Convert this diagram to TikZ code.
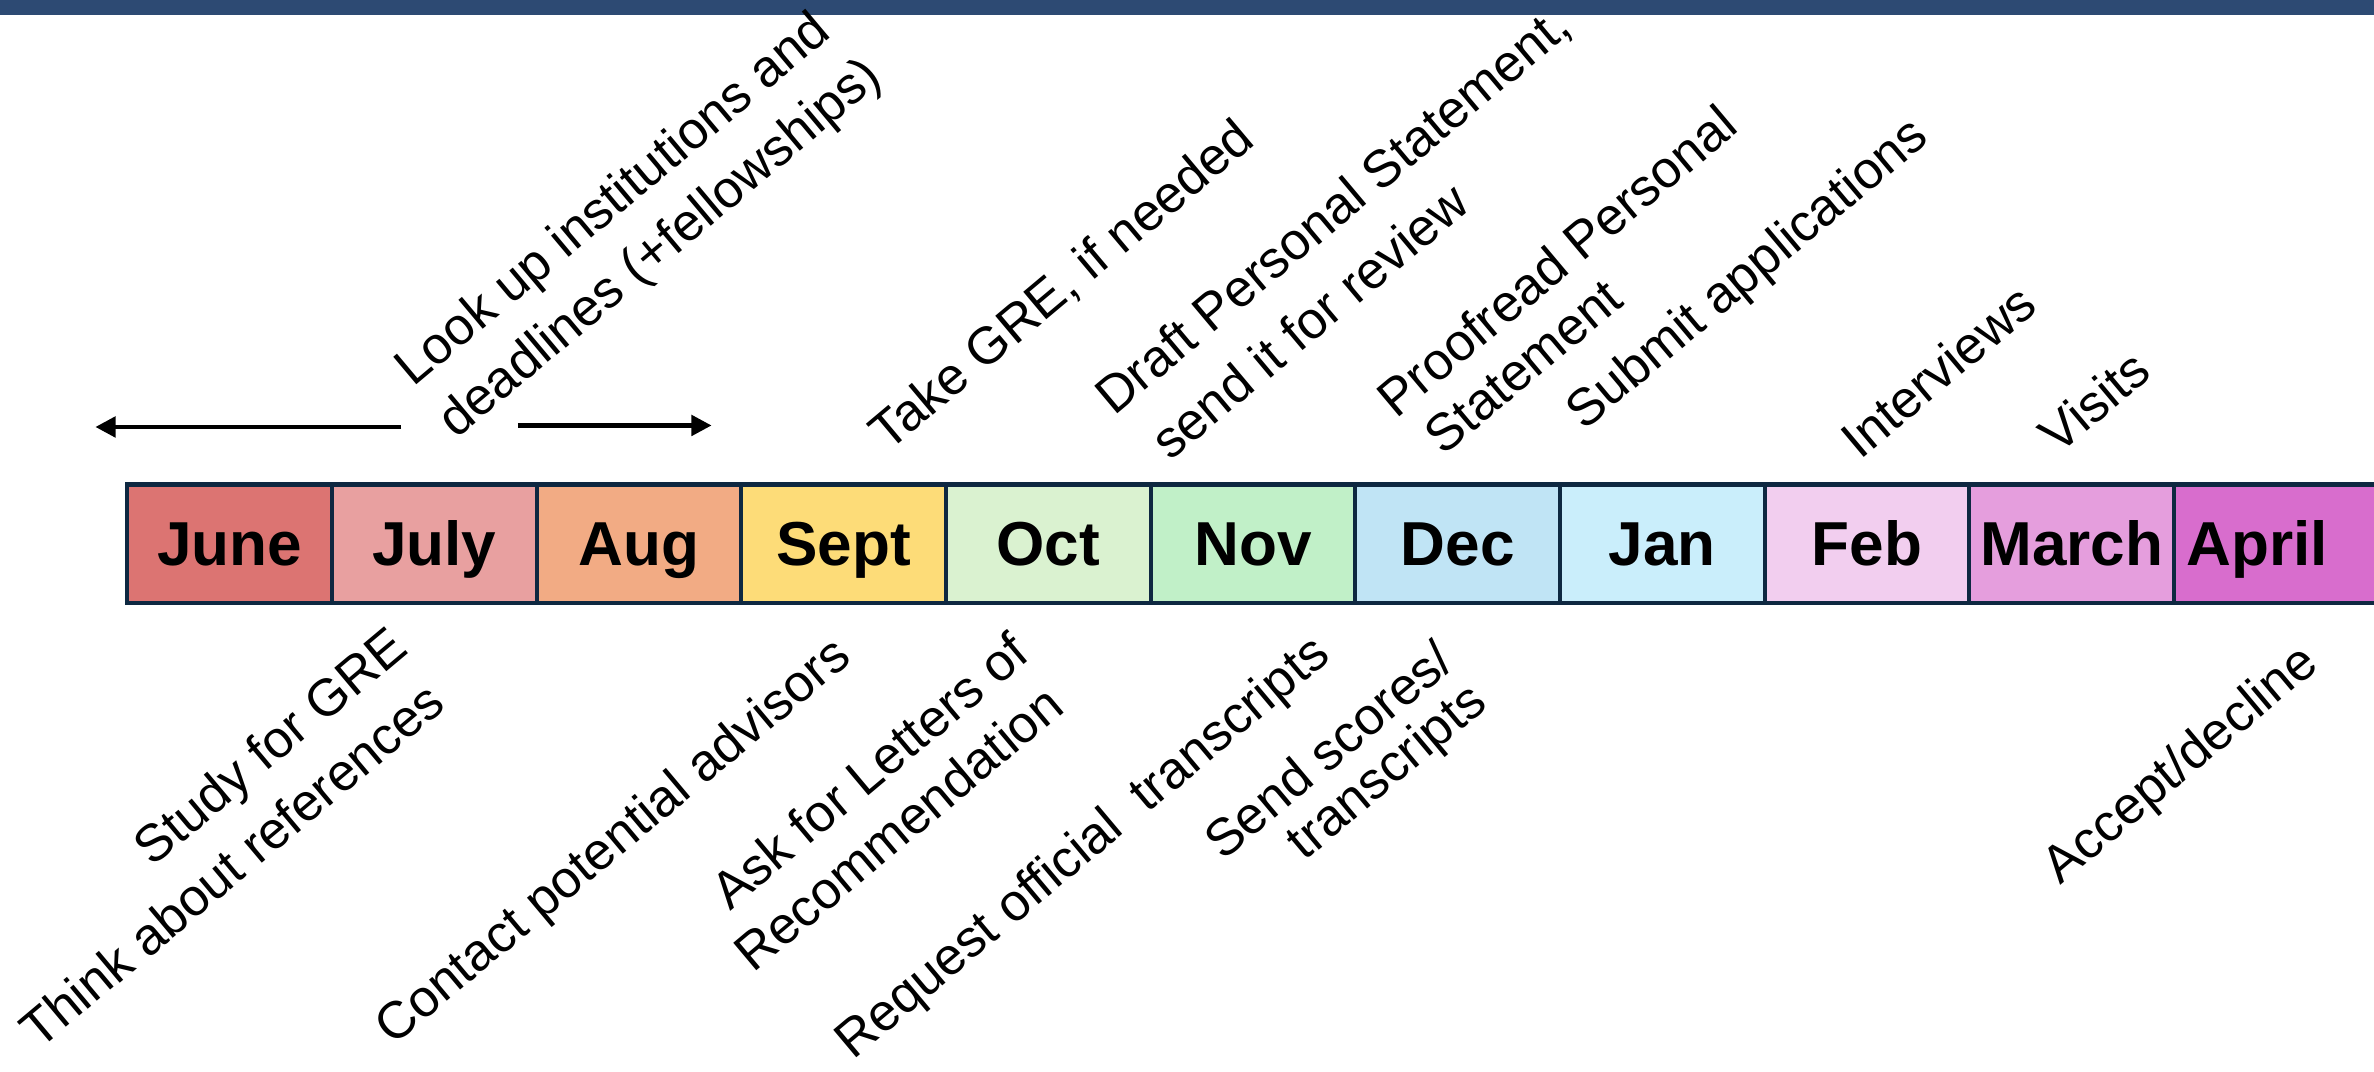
\documentclass[tikz,border=0pt]{standalone}
\usepackage{fontspec}
\setmainfont{Liberation Sans}
\usetikzlibrary{arrows.meta}
\definecolor{band}{HTML}{2D4A73}
\definecolor{edge}{HTML}{0E2841}
\definecolor{cJun}{HTML}{DC7472}
\definecolor{cJul}{HTML}{E8A0A0}
\definecolor{cAug}{HTML}{F2AB84}
\definecolor{cSep}{HTML}{FDDC78}
\definecolor{cOct}{HTML}{DAF2D0}
\definecolor{cNov}{HTML}{C1F0C8}
\definecolor{cDec}{HTML}{C0E4F5}
\definecolor{cJan}{HTML}{CAEEFB}
\definecolor{cFeb}{HTML}{F2CEEF}
\definecolor{cMar}{HTML}{E59EDD}
\definecolor{cApr}{HTML}{D86DCD}
\begin{document}
\begin{tikzpicture}[x=0.15mm,y=-0.15mm,
  month/.style={draw=edge, line width=0.4mm, minimum width=20.28mm, minimum height=11.7mm, inner sep=0pt, text height=12.5pt, text depth=0pt, font=\fontsize{17.5}{20}\selectfont\bfseries},
  mtext/.style={inner sep=0pt, text height=12.5pt, text depth=0pt, font=\fontsize{17.5}{20}\selectfont\bfseries},
  lbl/.style={rotate=40, inner sep=0pt, anchor=center, font=\fontsize{14.7}{18}\selectfont},
  arr/.style={line width=0.45mm, -{Triangle[length=2mm,width=2mm]}}]
\clip (0,0) rectangle (1568,708);
\fill[white] (0,0) rectangle (1568,708);
\fill[band] (0,0) rectangle (1568,10);

% month boxes
\node[month, fill=cJun] (jun) at (151.6,359) {June};
\node[month, fill=cJul] (jul) at (286.8,359) {July};
\node[month, fill=cAug] (aug) at (422.0,359) {Aug};
\node[month, fill=cSep] (sep) at (557.2,359) {Sept};
\node[month, fill=cOct] (oct) at (692.4,359) {Oct};
\node[month, fill=cNov] (nov) at (827.6,359) {Nov};
\node[month, fill=cDec] (dec) at (962.8,359) {Dec};
\node[month, fill=cJan] (jan) at (1098.0,359) {Jan};
\node[month, fill=cFeb] (feb) at (1233.2,359) {Feb};
\node[month, fill=cMar] (mar) at (1368.4,359) {March};
\node[month, fill=cApr] (apr) at (1503.6,359) {};
\node[mtext] (aprl) at (1491,359) {April};

% arrows
\coordinate (la1) at (265,282);
\coordinate (la2) at (63,282);
\coordinate (ra1) at (342,281);
\coordinate (ra2) at (470,281);
\draw[arr] (la1) -- (la2);
\draw[arr] (ra1) -- (ra2);

% upper labels
\node[lbl] (t1a) at (406,133) {Look up institutions and};
\node[lbl] (t1b) at (437,165) {deadlines (+fellowships)};
\node[lbl] (t2) at (702,189) {Take GRE, if needed};
\node[lbl] (t3a) at (881,140) {Draft Personal Statement,};
\node[lbl] (t3b) at (865,212) {send it for review};
\node[lbl] (t4a) at (1028,172) {Proofread Personal};
\node[lbl] (t4b) at (1006,242) {Statement};
\node[lbl] (t5) at (1155,182) {Submit applications};
\node[lbl] (t6) at (1280,245) {Interviews};
\node[lbl] (t7) at (1383,265) {Visits};

% lower labels
\node[lbl] (b1a) at (180,495) {Study for GRE};
\node[lbl] (b1b) at (153,571) {Think about references};
\node[lbl] (b2) at (406,557) {Contact potential advisors};
\node[lbl] (b3a) at (574,509) {Ask for Letters of};
\node[lbl] (b3b) at (593,547) {Recommendation};
\node[lbl] (b4) at (716,561) {Request official\ \ transcripts};
\node[lbl] (b5a) at (877,495) {Send scores/};
\node[lbl] (b5b) at (917,511) {transcripts};
\node[lbl] (b6) at (1441,506) {Accept/decline};
\end{tikzpicture}
\end{document}
